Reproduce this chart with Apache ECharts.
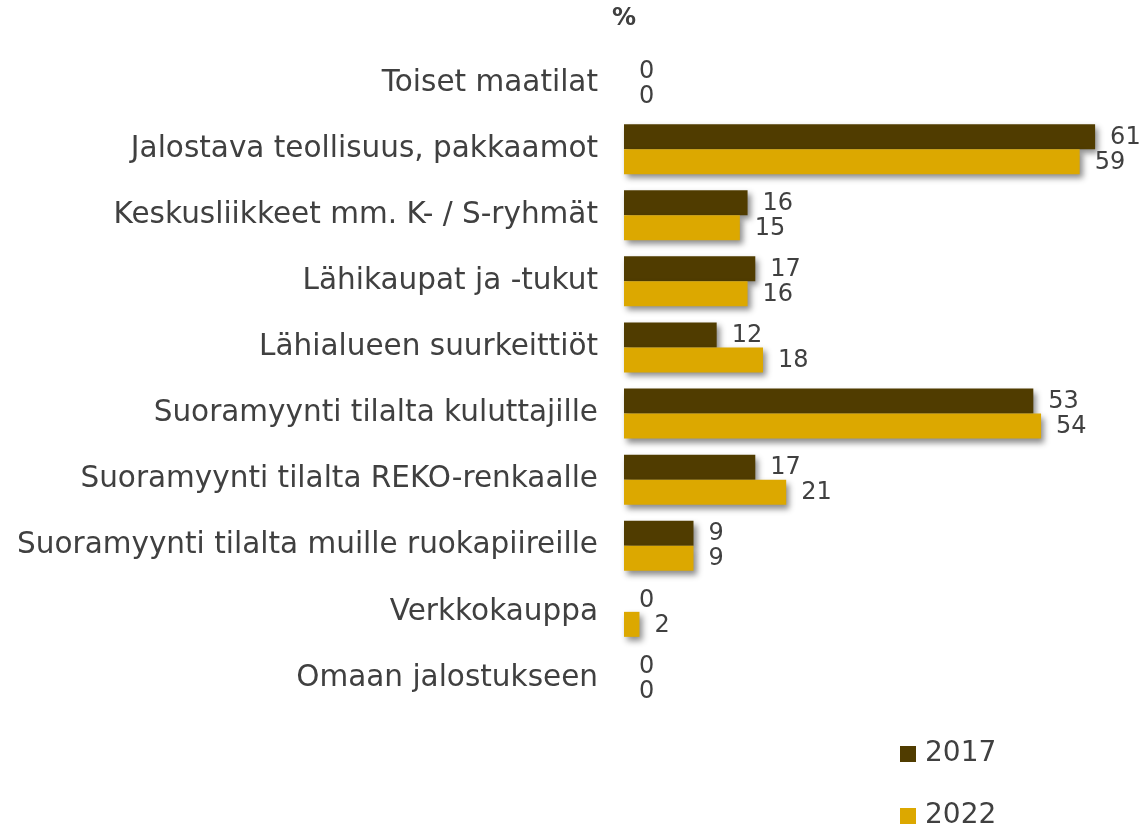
<!DOCTYPE html>
<html>
<head>
<meta charset="utf-8">
<script src="https://cdn.jsdelivr.net/npm/echarts@6/dist/echarts.min.js"></script>
<style>
html,body{margin:0;padding:0;background:#fff;}
#chart{width:1146px;height:831px;}
</style>
</head>
<body>
<div id="chart"></div>
<script>
const categories = [
  "Toiset maatilat",
  "Jalostava teollisuus, pakkaamot",
  "Keskusliikkeet mm. K- / S-ryhmät",
  "Lähikaupat ja -tukut",
  "Lähialueen suurkeittiöt",
  "Suoramyynti tilalta kuluttajille",
  "Suoramyynti tilalta REKO-renkaalle",
  "Suoramyynti tilalta muille ruokapiireille",
  "Verkkokauppa",
  "Omaan jalostukseen"
];
const values2017 = [0, 61, 16, 17, 12, 53, 17, 9, 0, 0];
const values2022 = [0, 59, 15, 16, 18, 54, 21, 9, 2, 0];
const seriesNames = ["2017", "2022"];
const unitLabel = "%";

const textColor = "#404040";
const fontFam = "'DejaVu Sans', Verdana, sans-serif";

function makeSeries(name, vals, color) {
  return {
    name: name,
    type: "bar",
    data: vals,
    barWidth: 25,
    barGap: "0%",
    itemStyle: {
      color: color,
      shadowColor: "rgba(0,0,0,0.45)",
      shadowBlur: 6,
      shadowOffsetX: 3,
      shadowOffsetY: 4
    },
    label: {
      show: true,
      position: "right",
      distance: 15,
      color: textColor,
      fontSize: 24,
      fontFamily: fontFam,
      offset: [0, 1]
    }
  };
}

const chart = echarts.init(document.getElementById("chart"), null, {renderer: "canvas"});
chart.setOption({
  backgroundColor: "#ffffff",
  animation: false,
  graphic: [{
    type: "text",
    left: 612,
    top: 7,
    style: {text: unitLabel, fill: textColor, fontSize: 24, fontWeight: "bold", fontFamily: fontFam}
  }],
  legend: {
    orient: "vertical",
    left: 900,
    top: 740,
    padding: 0,
    itemWidth: 16,
    itemHeight: 16,
    itemGap: 34,
    icon: "rect",
    data: seriesNames,
    textStyle: {color: textColor, fontSize: 28, fontFamily: fontFam, padding: [0, 0, 0, 4]}
  },
  grid: {left: 624, top: 50, width: 502, height: 661, containLabel: false},
  xAxis: {
    type: "value",
    min: 0,
    max: 65,
    show: false
  },
  yAxis: {
    type: "category",
    inverse: true,
    data: categories,
    axisLine: {show: false},
    axisTick: {show: false},
    axisLabel: {
      color: textColor,
      fontSize: 29.5,
      fontFamily: fontFam,
      margin: 26
    }
  },
  series: [
    makeSeries(seriesNames[0], values2017, "#503c00"),
    makeSeries(seriesNames[1], values2022, "#dca800")
  ]
});
</script>
</body>
</html>
